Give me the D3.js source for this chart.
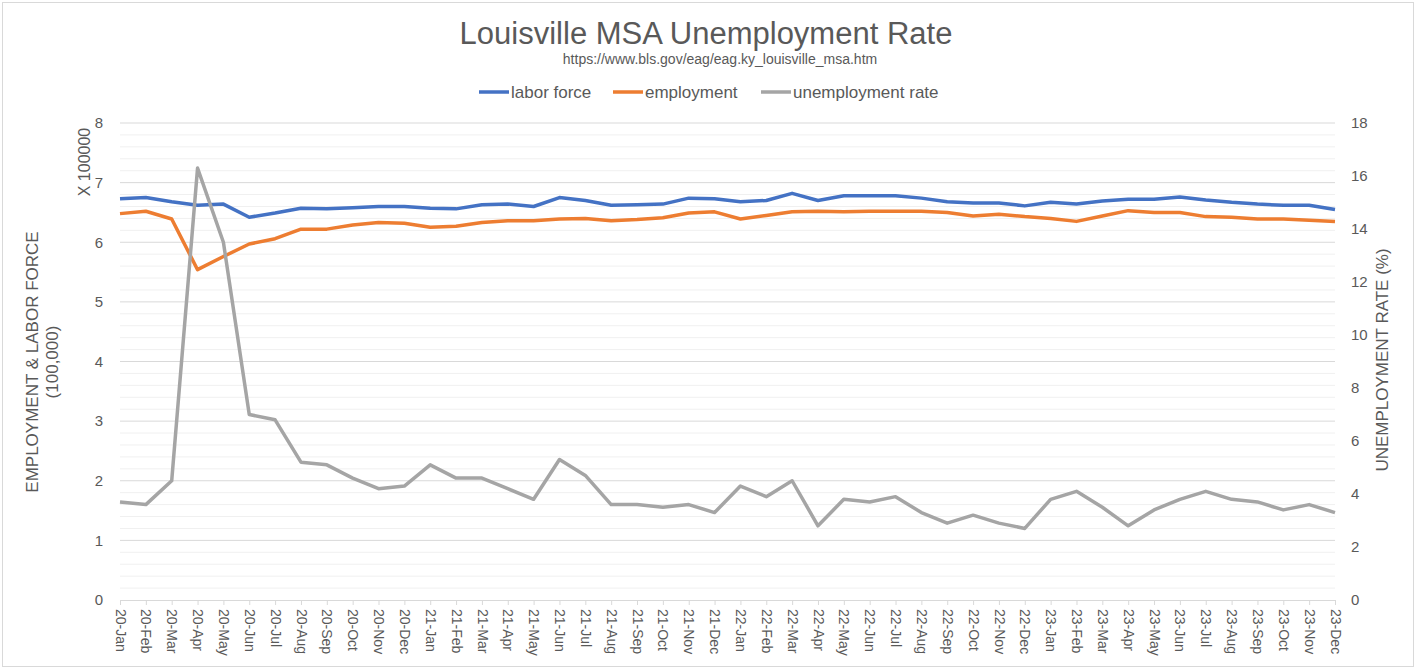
<!DOCTYPE html>
<html>
<head>
	<meta charset="utf-8">
	<title>Louisville MSA Unemployment Rate</title>
	<script src="https://cdn.jsdelivr.net/npm/d3@7"></script>
	<style>
		body { margin: 0; background: #fff; }
		svg text { font-family: "Liberation Sans", Arial, sans-serif; fill: #595959; }
		.grid-major { stroke: #d9d9d9; stroke-width: 1px; }
		.grid-minor { stroke: #f0f0f0; stroke-width: 1px; }
		.series { fill: none; stroke-width: 3.5px; stroke-linejoin: round; }
	</style>
</head>
<body>
<svg id="chart" width="1417" height="670"></svg>
<script>
// months as shown on the category axis
var months = ['20-Jan','20-Feb','20-Mar','20-Apr','20-May','20-Jun','20-Jul','20-Aug','20-Sep','20-Oct','20-Nov','20-Dec',
	'21-Jan','21-Feb','21-Mar','21-Apr','21-May','21-Jun','21-Jul','21-Aug','21-Sep','21-Oct','21-Nov','21-Dec',
	'22-Jan','22-Feb','22-Mar','22-Apr','22-May','22-Jun','22-Jul','22-Aug','22-Sep','22-Oct','22-Nov','22-Dec',
	'23-Jan','23-Feb','23-Mar','23-Apr','23-May','23-Jun','23-Jul','23-Aug','23-Sep','23-Oct','23-Nov','23-Dec'];

// persons (x 100000)
var laborForce = [673000,675000,668000,662000,664000,642000,649000,657000,656000,658000,660000,660000,
	657000,656000,663000,664000,660000,675000,670000,662000,663000,664000,674000,673000,
	668000,670000,682000,670000,678000,678000,678000,674000,668000,666000,666000,661000,
	667000,664000,669000,672000,672000,676000,671000,667000,664000,662000,662000,655000];

var employment = [648000,652000,639000,554000,576000,597000,606000,622000,622000,629000,633000,632000,
	625000,627000,633000,636000,636000,639000,640000,636000,638000,641000,649000,651000,
	639000,645000,651000,652000,651000,652000,652000,652000,650000,644000,647000,643000,
	640000,635000,644000,653000,650000,650000,643000,642000,639000,639000,637000,635000];

// percent
var unemploymentRate = [3.7,3.6,4.5,16.3,13.5,7.0,6.8,5.2,5.1,4.6,4.2,4.3,
	5.1,4.6,4.6,4.2,3.8,5.3,4.7,3.6,3.6,3.5,3.6,3.3,
	4.3,3.9,4.5,2.8,3.8,3.7,3.9,3.3,2.9,3.2,2.9,2.7,
	3.8,4.1,3.5,2.8,3.4,3.8,4.1,3.8,3.7,3.4,3.6,3.3];

var leftTicks = [0,1,2,3,4,5,6,7,8];
var rightTicks = [0,2,4,6,8,10,12,14,16,18];

var series = [
	{ name: 'labor force', values: laborForce, color: '#4472c4', axis: 'left' },
	{ name: 'employment', values: employment, color: '#ed7d31', axis: 'left' },
	{ name: 'unemployment rate', values: unemploymentRate, color: '#a5a5a5', axis: 'right' }
];

var svg = d3.select('#chart'),
	width = +svg.attr('width'),
	height = +svg.attr('height');

var margin = { top: 123, right: 82, bottom: 70, left: 120 };
var plotW = width - margin.left - margin.right,
	plotH = height - margin.top - margin.bottom;

// chart frame
svg.append('rect')
	.attr('x', 2.5).attr('y', 2.5)
	.attr('width', width - 6).attr('height', height - 6)
	.attr('fill', '#fff')
	.attr('stroke', '#d9d9d9');

var x = d3.scalePoint().domain(months).range([0, plotW]);
var yLeft = d3.scaleLinear().domain([0, 800000]).range([plotH, 0]);
var yRight = d3.scaleLinear().domain([0, 18]).range([plotH, 0]);

var g = svg.append('g').attr('transform', `translate(${margin.left},${margin.top})`);

// gridlines: major every 100000, minor every 20000
var minor = d3.range(0, 800001, 20000).filter(d => d % 100000 != 0);
g.selectAll('.grid-minor')
	.data(minor)
	.enter().append('line')
	.attr('class', 'grid-minor')
	.attr('x1', 0).attr('x2', plotW)
	.attr('y1', d => yLeft(d)).attr('y2', d => yLeft(d));

g.selectAll('.grid-major')
	.data(leftTicks.slice(1))
	.enter().append('line')
	.attr('class', 'grid-major')
	.attr('x1', 0).attr('x2', plotW)
	.attr('y1', d => yLeft(d * 1e5)).attr('y2', d => yLeft(d * 1e5));

// left axis labels
g.selectAll('.ltick')
	.data(leftTicks)
	.enter().append('text')
	.attr('x', -17)
	.attr('y', d => yLeft(d * 1e5))
	.attr('dy', '0.35em')
	.attr('text-anchor', 'end')
	.style('font-size', '15px')
	.text(d => d);

// right axis labels
g.selectAll('.rtick')
	.data(rightTicks)
	.enter().append('text')
	.attr('x', plotW + 16)
	.attr('y', d => yRight(d))
	.attr('dy', '0.35em')
	.attr('text-anchor', 'start')
	.style('font-size', '15px')
	.text(d => d);

// category axis
var xAxis = g.append('g')
	.attr('transform', `translate(0,${plotH})`)
	.call(d3.axisBottom(x).tickSize(5).tickSizeOuter(0).tickPadding(6));
xAxis.select('.domain').attr('stroke', '#d9d9d9');
xAxis.selectAll('.tick line').attr('stroke', '#d9d9d9');
xAxis.selectAll('.tick text')
	.style('font-size', '14px')
	.attr('fill', '#595959')
	.attr('transform', 'rotate(90)')
	.attr('text-anchor', 'start')
	.attr('x', 9)
	.attr('y', 0)
	.attr('dy', '0.35em');

// lines
series.forEach(s => {
	var yScale = s.axis == 'left' ? yLeft : yRight;
	var line = d3.line()
		.x((d, i) => x(months[i]))
		.y(d => yScale(d));
	g.append('path')
		.datum(s.values)
		.attr('class', 'series')
		.attr('stroke', s.color)
		.attr('d', line);
});

// titles
svg.append('text')
	.attr('x', 706).attr('y', 44)
	.attr('text-anchor', 'middle')
	.style('font-size', '31px')
	.text('Louisville MSA Unemployment Rate');

svg.append('text')
	.attr('x', 720).attr('y', 64)
	.attr('text-anchor', 'middle')
	.style('font-size', '14px')
	.text('https://www.bls.gov/eag/eag.ky_louisville_msa.htm');

// legend
var legendX = [479, 613, 761];
var legend = svg.selectAll('.legend')
	.data(series)
	.enter().append('g')
	.attr('transform', (d, i) => `translate(${legendX[i]},92)`);
legend.append('line')
	.attr('x1', 0).attr('x2', 30)
	.attr('stroke', d => d.color)
	.attr('stroke-width', 3.5);
legend.append('text')
	.attr('x', 32)
	.attr('dy', '0.35em')
	.style('font-size', '17px')
	.text(d => d.name);

// axis titles
svg.append('text')
	.attr('transform', 'translate(84,162) rotate(-90)')
	.attr('text-anchor', 'middle')
	.attr('dy', '0.35em')
	.style('font-size', '16px')
	.text('X 100000');

svg.append('text')
	.attr('transform', 'translate(32,362) rotate(-90)')
	.attr('text-anchor', 'middle')
	.attr('dy', '0.35em')
	.style('font-size', '17px')
	.text('EMPLOYMENT & LABOR FORCE');

svg.append('text')
	.attr('transform', 'translate(52,362) rotate(-90)')
	.attr('text-anchor', 'middle')
	.attr('dy', '0.35em')
	.style('font-size', '17px')
	.text('(100,000)');

svg.append('text')
	.attr('transform', 'translate(1382,360) rotate(-90)')
	.attr('text-anchor', 'middle')
	.attr('dy', '0.35em')
	.style('font-size', '17px')
	.text('UNEMPLOYMENT RATE (%)');
</script>
</body>
</html>
